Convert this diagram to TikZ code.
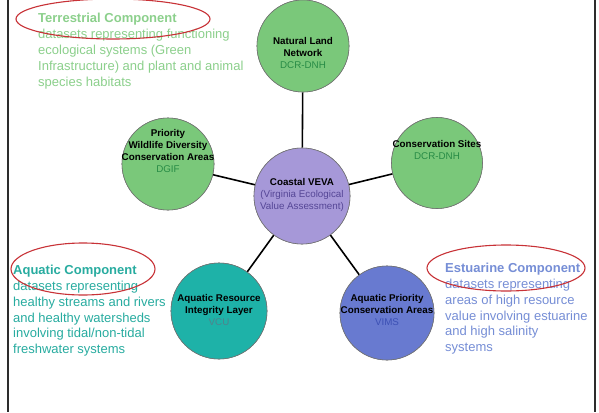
\documentclass[tikz,border=0pt]{standalone}
\usepackage{fontspec}
\setmainfont{Liberation Sans}
\usetikzlibrary{shapes.geometric}
\definecolor{terrtxt}{RGB}{140,208,140}
\definecolor{aquatxt}{RGB}{40,172,160}
\definecolor{estutxt}{RGB}{118,142,214}
\definecolor{ringred}{RGB}{200,50,55}
\definecolor{gfill}{RGB}{122,200,122}
\definecolor{tfill}{RGB}{30,178,168}
\definecolor{bfill}{RGB}{104,122,208}
\definecolor{pfill}{RGB}{166,152,216}
\definecolor{gsub}{RGB}{40,140,70}
\definecolor{tsub}{RGB}{80,130,140}
\definecolor{bsub}{RGB}{60,80,180}
\definecolor{psub}{RGB}{85,70,150}
\definecolor{frameclr}{RGB}{45,45,45}
\tikzset{
  circ/.style={circle, draw=black!55, line width=0.6pt, inner sep=0pt},
  lbl/.style={align=center, inner sep=0pt, font=\fontsize{9.8}{12.3}\selectfont\bfseries},
  conn/.style={line width=1.6pt, black},
  side/.style={anchor=north west, align=left, inner sep=0pt},
  ring/.style={draw=ringred, line width=1.1pt, ellipse, fill=none},
  framel/.style={line width=2.2pt, frameclr}
}
\begin{document}
\begin{tikzpicture}[x=1pt,y=-1pt]
\useasboundingbox (0,0) rectangle (599,412);
\fill[white] (0,0) rectangle (599,412);
% frame
\draw[framel] (8,0) -- (8,412);
\draw[framel] (595,0) -- (595,412);
% circles
\node[circ, fill=gfill, minimum size=92pt] (nln) at (303,46) {};
\node[circ, fill=gfill, minimum size=92pt] (pwd) at (168,164) {};
\node[circ, fill=gfill, minimum size=91pt] (cs) at (437,163) {};
\node[circ, fill=pfill, minimum size=96pt] (veva) at (302,196) {};
\node[circ, fill=tfill, minimum size=96pt] (arl) at (219,311) {};
\node[circ, fill=bfill, minimum size=94pt] (apc) at (387,313) {};
% connectors
\draw[conn] (veva) -- (nln);
\draw[conn] (veva) -- (pwd);
\draw[conn] (veva) -- (cs);
\draw[conn] (veva) -- (arl);
\draw[conn] (veva) -- (apc);
% redraw circles on top of lines
\node[circ, fill=gfill, minimum size=92pt] at (303,46) {};
\node[circ, fill=gfill, minimum size=92pt] at (168,164) {};
\node[circ, fill=gfill, minimum size=91pt] at (437,163) {};
\node[circ, fill=pfill, minimum size=96pt] at (302,196) {};
\node[circ, fill=tfill, minimum size=96pt] at (219,311) {};
\node[circ, fill=bfill, minimum size=94pt] at (387,313) {};
% circle labels
\node[lbl] (nlnt) at (303,53) {Natural Land\\Network\\\textcolor{gsub}{\mdseries DCR-DNH}};
\node[lbl] (pwdt) at (168,151) {Priority\\Wildlife Diversity\\Conservation Areas\\\textcolor{gsub}{\mdseries DGIF}};
\node[lbl] (cst) at (437,150) {Conservation Sites\\\textcolor{gsub}{\mdseries DCR-DNH}};
\node[lbl] (vevat) at (302,195) {Coastal VEVA\\\textcolor{psub}{\mdseries (Virginia Ecological}\\\textcolor{psub}{\mdseries Value Assessment)}};
\node[lbl] (arlt) at (219,310) {Aquatic Resource\\Integrity Layer\\\textcolor{tsub}{\mdseries VCU}};
\node[lbl] (apct) at (387,310) {Aquatic Priority\\Conservation Areas\\\textcolor{bsub}{\mdseries VIMS}};
% side texts
\node[side, text=terrtxt, font=\fontsize{13}{16}\selectfont] (terr) at (38,12.5)
  {\textbf{Terrestrial Component}\\datasets representing functioning\\ecological systems (Green\\Infrastructure) and plant and animal\\species habitats};
\node[side, text=aquatxt, font=\fontsize{13}{15.8}\selectfont] (aqua) at (13,265)
  {\textbf{Aquatic Component}\\datasets representing\\healthy streams and rivers\\and healthy watersheds\\involving tidal/non-tidal\\freshwater systems};
\node[side, text=estutxt, font=\fontsize{13}{15.8}\selectfont] (estu) at (445,263)
  {\textbf{Estuarine Component}\\datasets representing\\areas of high resource\\value involving estuarine\\and high salinity\\systems};
% red ellipses
\node[ring, minimum width=194pt, minimum height=40pt] (e1) at (113,19) {};
\node[ring, minimum width=144pt, minimum height=52pt] (e2) at (83,269) {};
\node[ring, minimum width=158pt, minimum height=46pt] (e3) at (506,268) {};
\end{tikzpicture}
\end{document}
